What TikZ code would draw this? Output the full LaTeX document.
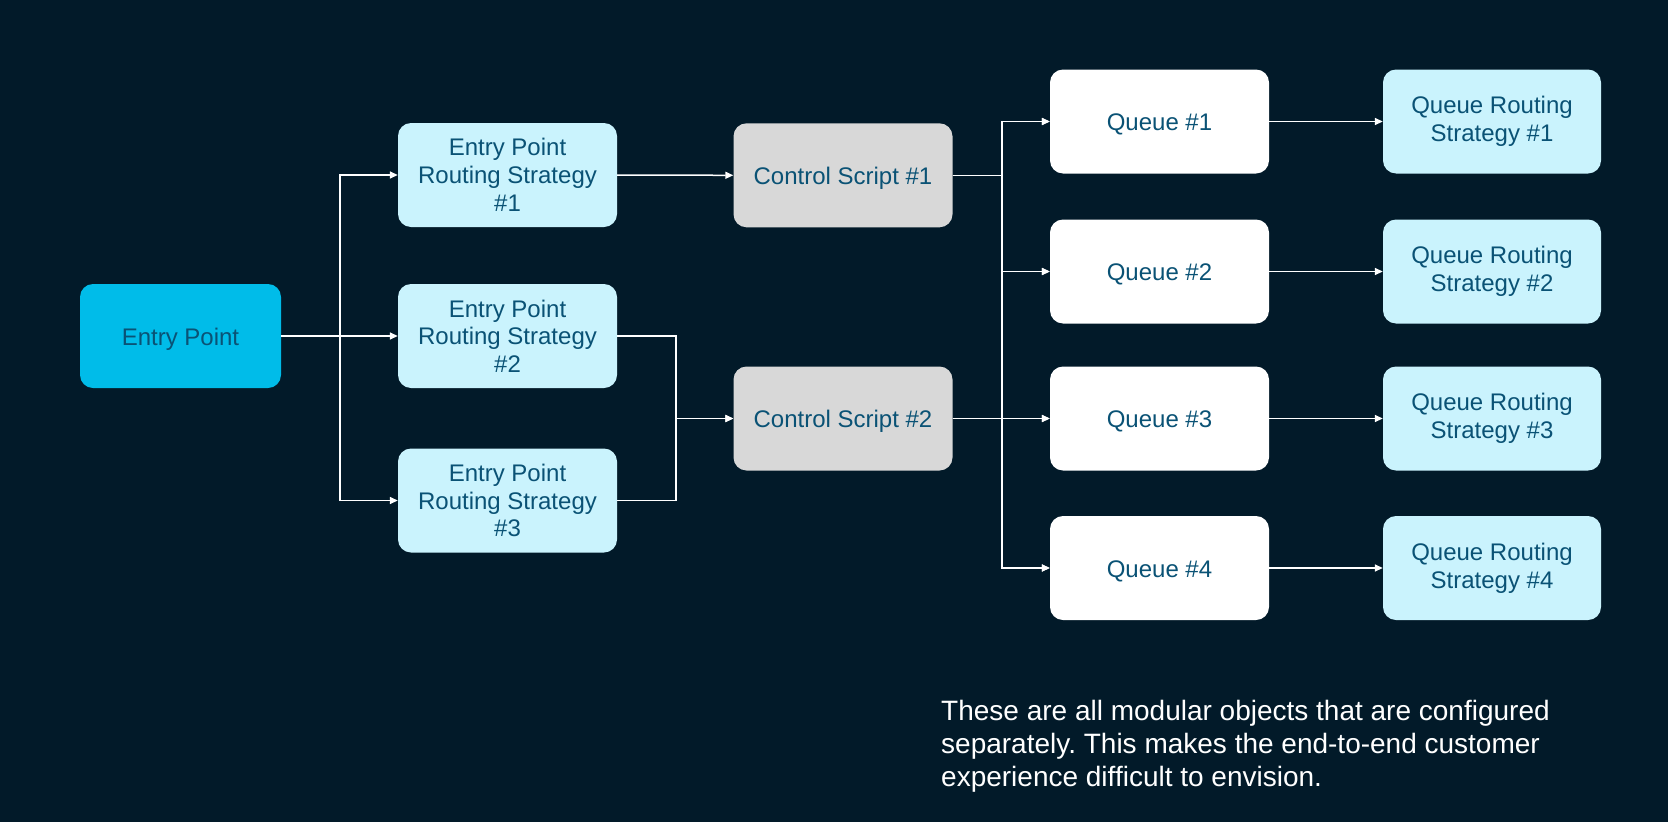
\documentclass[tikz,border=0pt]{standalone}
\usepackage{fontspec}
\setmainfont{Liberation Sans}
\usetikzlibrary{arrows.meta,calc}
\definecolor{bg}{HTML}{021A29}
\definecolor{epfill}{HTML}{00BCE9}
\definecolor{lightfill}{HTML}{CAF3FD}
\definecolor{grayfill}{HTML}{D8D8D8}
\definecolor{txt}{HTML}{0A5275}
\tikzset{
  x=1pt,y=-1pt,
  box/.style={rounded corners=13pt,minimum width=219pt,minimum height=104pt,align=center,text=txt,
    font=\fontsize{24}{27.7}\selectfont,inner sep=0pt,
    execute at begin node={\vrule width 0pt height 23.5pt depth 0pt}},
  epbox/.style={box,fill=epfill,minimum width=201pt},
  rsbox/.style={box,fill=lightfill},
  csbox/.style={box,fill=grayfill},
  qbox/.style={box,fill=white},
  arr/.style={draw=white,line width=1.5pt,-{Triangle[length=8pt,width=7pt]}},
}
\begin{document}
\frenchspacing
\begin{tikzpicture}
\useasboundingbox[fill=bg] (0,0) rectangle (1668,822);
\node[epbox] (ep) at (180.5,336) {Entry Point};
\node[rsbox] (rs1) at (507.5,175) {Entry Point\\Routing Strategy\\\#1};
\node[rsbox] (rs2) at (507.5,336) {Entry Point\\Routing Strategy\\\#2};
\node[rsbox] (rs3) at (507.5,500.5) {Entry Point\\Routing Strategy\\\#3};
\node[csbox] (cs1) at (843,175.3) {Control Script \#1};
\node[csbox] (cs2) at (843,418.5) {Control Script \#2};
\node[qbox] (q1) at (1159.5,121.5) {Queue \#1};
\node[qbox] (q2) at (1159.5,271.5) {Queue \#2};
\node[qbox] (q3) at (1159.5,418.5) {Queue \#3};
\node[qbox] (q4) at (1159.5,568) {Queue \#4};
\node[rsbox,minimum width=218pt] (r1) at (1492,121.5) {Queue Routing\\Strategy \#1};
\node[rsbox,minimum width=218pt] (r2) at (1492,271.5) {Queue Routing\\Strategy \#2};
\node[rsbox,minimum width=218pt] (r3) at (1492,418.5) {Queue Routing\\Strategy \#3};
\node[rsbox,minimum width=218pt] (r4) at (1492,568) {Queue Routing\\Strategy \#4};
\coordinate (t1) at (340,336);
\coordinate (t2) at (676,418.5);
\coordinate (j1) at (1002,175.3);
\coordinate (j2) at (1002,418.5);
\draw[arr] (ep.east) -- (t1) |- (rs1.west);
\draw[arr] (ep.east) -- (rs2.west);
\draw[arr] (ep.east) -- (t1) |- (rs3.west);
\draw[arr] (rs1.east) -- (cs1.west);
\draw[arr] (rs2.east) -| (t2) -- (cs2.west);
\draw[arr] (rs3.east) -| (t2) -- (cs2.west);
\foreach \q in {q1,q2,q3,q4}{
  \draw[arr] (cs1.east) -- (j1) |- (\q.west);
  \draw[arr] (cs2.east) -- (j2) |- (\q.west);
}
\draw[arr] (q1.east) -- (r1.west);
\draw[arr] (q2.east) -- (r2.west);
\draw[arr] (q3.east) -- (r3.west);
\draw[arr] (q4.east) -- (r4.west);
\node[anchor=base west,align=left,text=white,inner sep=0pt,font=\fontsize{28}{33}\selectfont] (note) at (941,786.4) {These are all modular objects that are configured\\separately. This makes the end-to-end customer\\experience difficult to envision.};
\end{tikzpicture}
\end{document}
